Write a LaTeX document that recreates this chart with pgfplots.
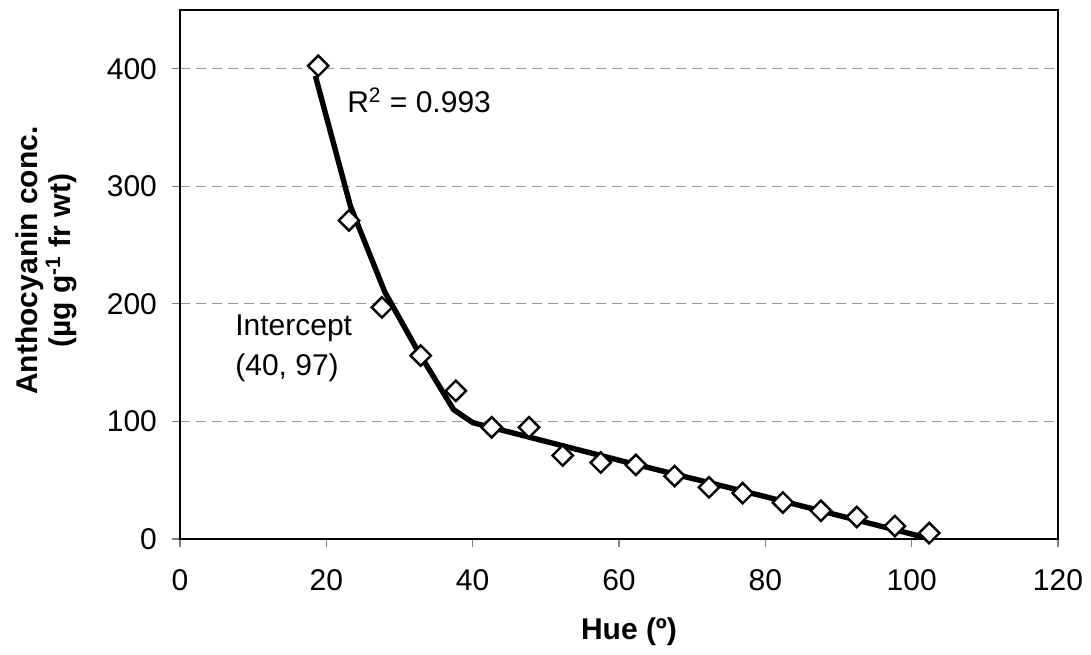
\documentclass[border=0pt]{standalone}
\usepackage{fontspec}
\setmainfont{Liberation Sans}
\usepackage{pgfplots}
\pgfplotsset{compat=1.18}
\begin{document}
\begin{tikzpicture}
\begin{axis}[
  scale only axis,
  width=439pt, height=264.5pt,
  xmin=0, xmax=120, ymin=0, ymax=450,
  xtick={0,20,...,120}, ytick={0,100,...,400},
  tick align=outside, tick pos=left,
  major tick length=4pt,
  tick style={gray, line width=0.6pt},
  axis line style={line width=1.3pt},
  ymajorgrids,
  grid style={gray!80, dash pattern=on 5pt off 3pt, line width=0.5pt},
  /pgf/number format/assume math mode=true,
  ticklabel style={font=\fontsize{15}{18}\selectfont},
  xticklabel style={yshift=-7.5pt},
  yticklabel style={xshift=-4pt},
  xlabel={\bfseries Hue (º)},
  xlabel style={font=\fontsize{15}{18}\selectfont, at={([xshift=5pt,yshift=-50.5pt]axis description cs:0.5,0)}, anchor=base},
  ylabel={\fontsize{15}{23}\selectfont\bfseries Anthocyanin conc.\\ \fontsize{15}{23}\selectfont\bfseries (µg g\textsuperscript{-1} fr wt)},
  ylabel style={align=center, at={([xshift=-48pt,yshift=7pt]axis description cs:0,0.5)}, anchor=south},
  clip=false,
]
\addplot[black, line width=2.7pt, no marks] coordinates {
(18.5,394) (23.3,283) (28,210) (32.5,160) (37.4,110) (40,99) (60,67) (80,36) (102,1)
};
\addplot[only marks, mark=square*, mark size=3.6pt, mark options={rotate=45, fill=white, draw=black, line width=1.2pt}] coordinates {
(18.9,402.5) (23.1,271) (27.6,197) (32.9,156) (37.7,126) (42.6,95) (47.7,95)
(52.3,71) (57.5,65) (62.3,63) (67.6,53.5) (72.3,44) (76.9,39) (82.4,31)
(87.6,24) (92.5,18.7) (97.7,11) (102.4,5)
};
\node[anchor=base west, font=\fontsize{15}{18}\selectfont] at (axis cs:21.9,362.6) {R\textsuperscript{2} = 0.993};
\node[anchor=base west, font=\fontsize{15}{18}\selectfont] at (axis cs:6.6,173.2) {Intercept};
\node[anchor=base west, font=\fontsize{15}{18}\selectfont] at (axis cs:6.6,139.2) {(40, 97)};
\end{axis}
\pgfresetboundingbox
\useasboundingbox ([xshift=-90pt,yshift=-58pt]current axis.south west) rectangle ([xshift=16.5pt,yshift=5pt]current axis.north east);
\end{tikzpicture}
\end{document}
